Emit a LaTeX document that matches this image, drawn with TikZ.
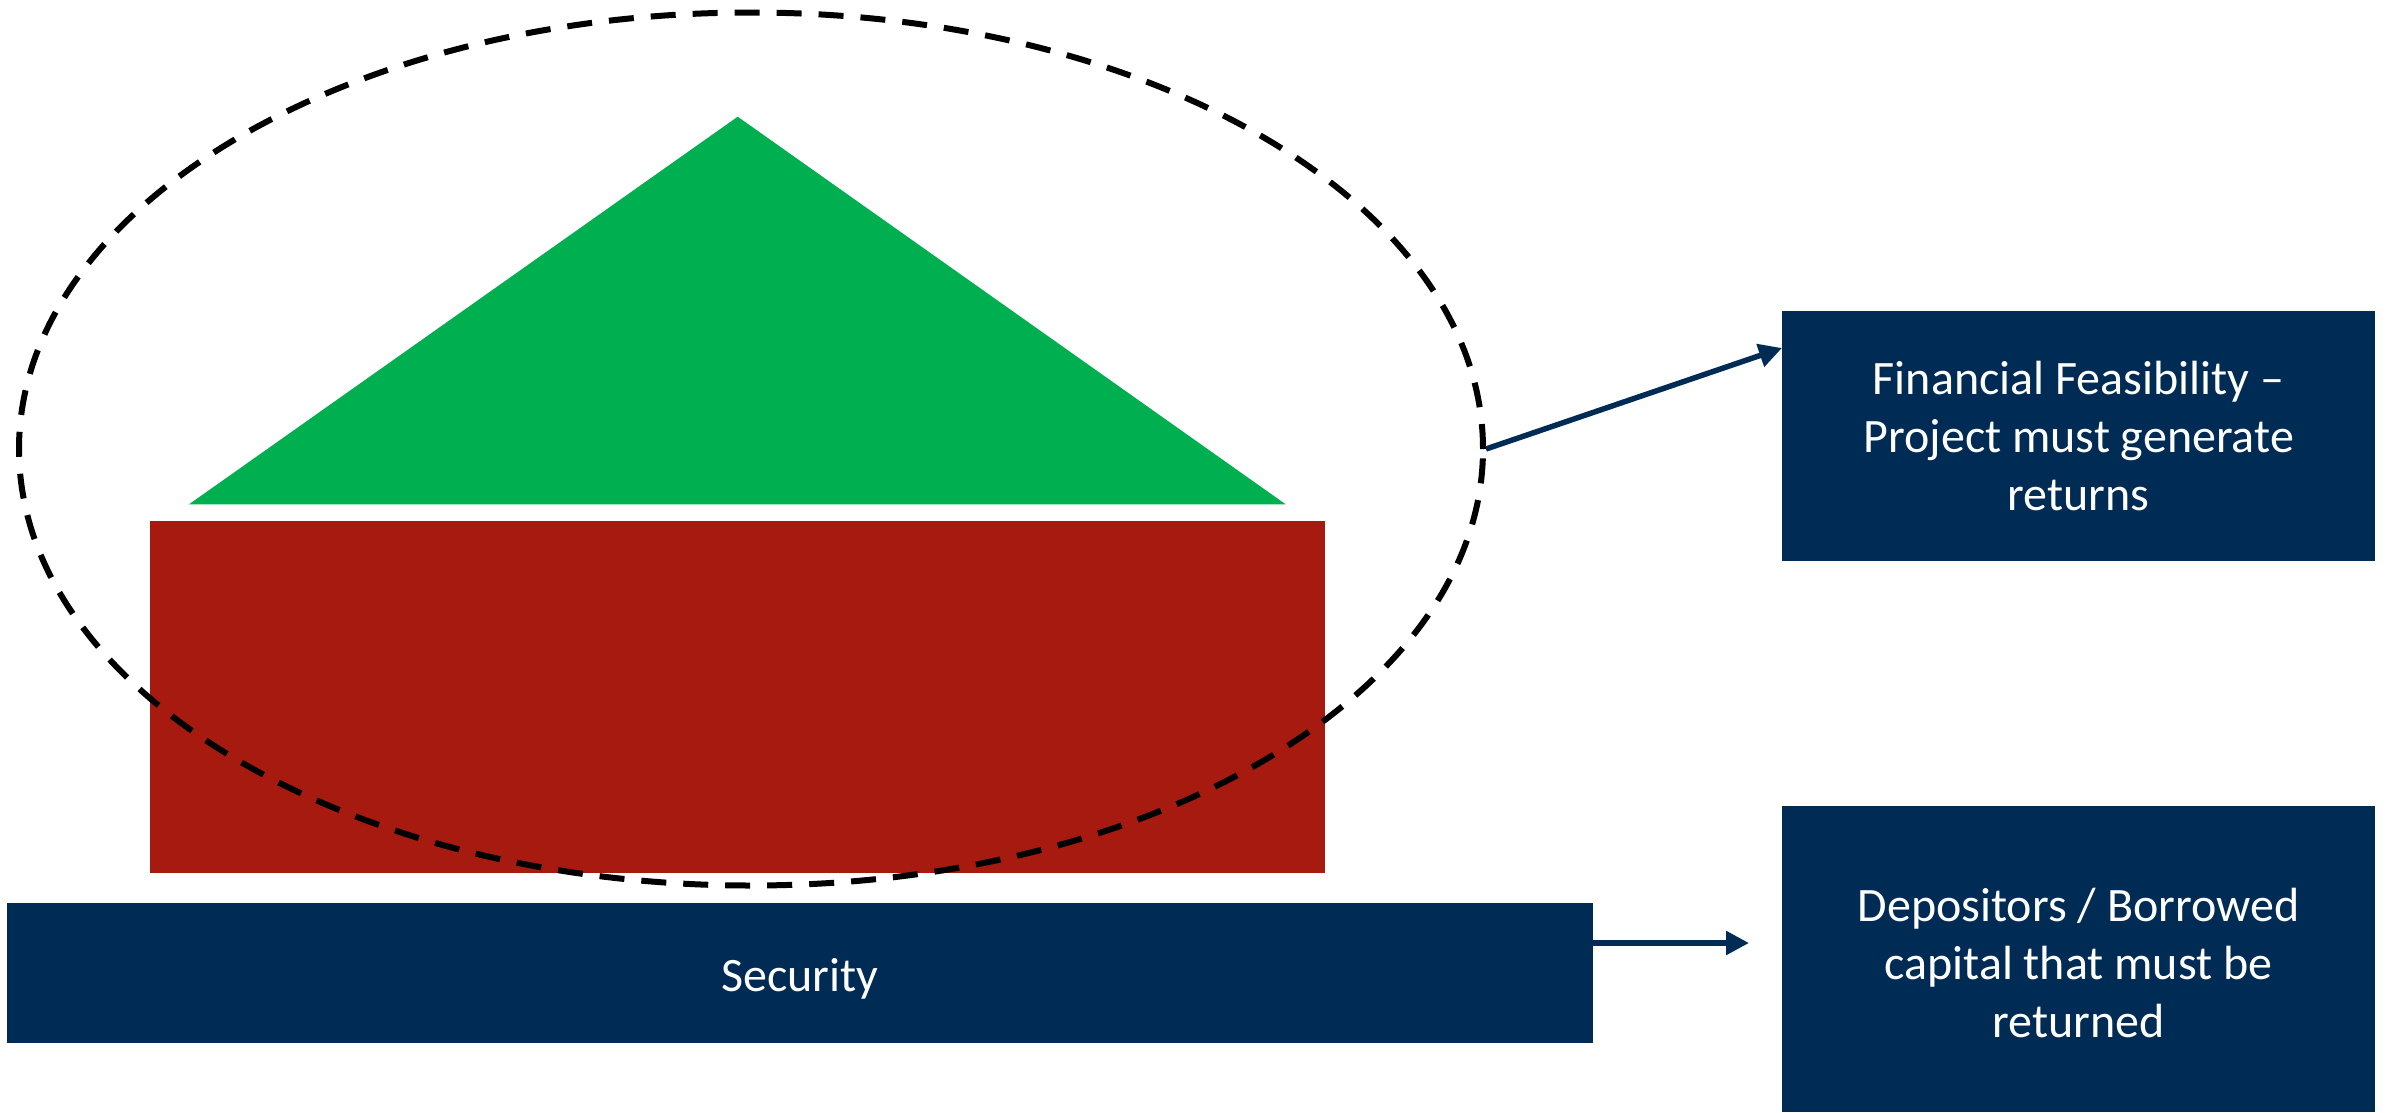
\documentclass[tikz,border=0pt]{standalone}
\usepackage{fontspec}
\setmainfont{Carlito}
\usetikzlibrary{shapes.geometric,arrows.meta}
\definecolor{navy}{HTML}{002B55}
\definecolor{roofgreen}{HTML}{00B050}
\definecolor{wallred}{HTML}{A61A10}
\tikzset{
  navybox/.style={fill=navy, draw=none, text=white, align=center, inner sep=0pt,
    font=\fontsize{48}{58}\selectfont},
  link/.style={draw=navy, line width=5.5pt, -{Triangle[length=23pt,width=23pt]}},
  ring/.style={draw=black, ellipse, line width=6pt, dash pattern=on 25pt off 17pt,
    inner sep=0pt, minimum width=1464pt, minimum height=873pt}
}
\begin{document}
\begin{tikzpicture}[x=1pt,y=-1pt]
\useasboundingbox (0,0) rectangle (2386,1112);
% roof
\fill[roofgreen] (737.7,116.7) -- (1285.7,504.3) -- (189,504.3) -- cycle;
% wall
\fill[wallred] (150,521) rectangle (1325,872.7);
% security bar
\fill[navy] (7,902.7) rectangle (1593,1042.7);
\node[text=white, inner sep=0pt, font=\fontsize{48}{58}\selectfont] (sec) at (800,979) {Security};
% right boxes
\node[navybox, minimum width=593pt, minimum height=250pt, anchor=north west] (box1) at (1782,310.5)
  {Financial Feasibility –\\Project must generate\\returns};
\fill[navy] (1782,806) rectangle (2375,1112);
\node[text=white, align=center, inner sep=0pt, font=\fontsize{48}{58}\selectfont] (box2) at (2078.5,963)
  {Depositors / Borrowed\\capital that must be\\returned};
% dashed ellipse
\node[ring] (ring) at (751,449) {};
% connectors
\coordinate (t1) at (1782,348);
\coordinate (s2) at (1593,943);
\coordinate (t2) at (1749,943);
\draw[link] (ring.east) -- (t1);
\draw[link] (s2) -- (t2);
\end{tikzpicture}
\end{document}
